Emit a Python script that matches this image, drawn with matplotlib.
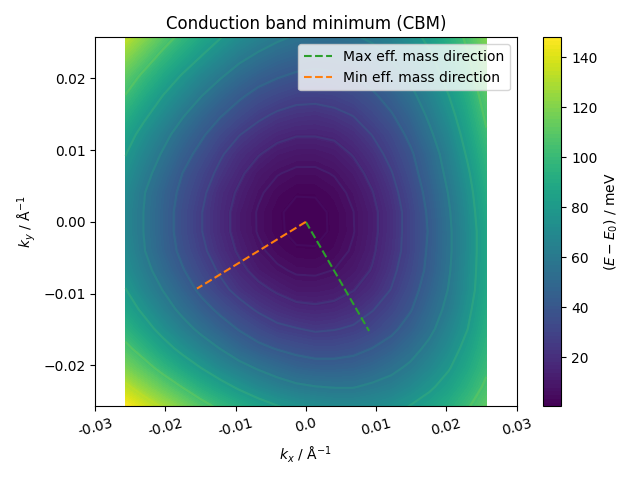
import numpy as np
import matplotlib
matplotlib.use('Agg')
import matplotlib.pyplot as plt
from matplotlib.colors import PowerNorm

# k-grid (Å^-1), 20 x 20 points
KX = [-0.0257, -0.02299, -0.02029, -0.01758, -0.01488, -0.01217, -0.00947,
      -0.00676, -0.00406, -0.00135, 0.00135, 0.00406, 0.00676, 0.00947,
      0.01217, 0.01488, 0.01758, 0.02029, 0.02299, 0.0257]
KY = list(KX)

# E - E0 in meV, rows follow KY (bottom -> top), columns follow KX
E_MEV = [
    [148, 138, 128, 118, 108, 99, 92, 85, 79, 75, 72, 70, 70, 71, 74, 79, 85, 92, 101, 111],
    [133, 122, 112, 102, 92, 84, 76, 69, 64, 60, 58, 57, 57, 60, 63, 69, 76, 84, 94, 105],
    [118, 108, 97, 87, 78, 69, 62, 56, 51, 47, 45, 45, 46, 49, 54, 60, 68, 77, 88, 100],
    [106, 95, 84, 74, 65, 57, 49, 43, 39, 36, 34, 34, 36, 40, 45, 52, 61, 71, 83, 96],
    [95, 84, 73, 63, 54, 46, 39, 33, 28, 26, 24, 25, 27, 31, 37, 45, 54, 66, 78, 93],
    [86, 75, 64, 54, 45, 37, 30, 24, 20, 17, 16, 17, 20, 25, 31, 39, 50, 61, 75, 90],
    [79, 67, 57, 47, 37, 29, 22, 17, 13, 10, 9.9, 11, 14, 19, 26, 35, 46, 58, 72, 88],
    [73, 62, 51, 41, 32, 24, 17, 11, 7.6, 5.4, 5.1, 6.6, 10, 15, 23, 32, 43, 56, 71, 87],
    [70, 58, 47, 37, 28, 20, 13, 7.8, 4.1, 2.1, 2.0, 3.7, 7.3, 13, 21, 30, 42, 55, 70, 87],
    [68, 57, 46, 35, 26, 18, 11, 5.9, 2.3, 0.5, 0.4, 2.3, 6.1, 12, 20, 30, 41, 55, 70, 87],
    [68, 57, 46, 35, 26, 18, 11, 5.8, 2.2, 0.4, 0.4, 2.4, 6.3, 12, 20, 30, 42, 56, 71, 89],
    [70, 58, 47, 37, 28, 19, 13, 7.4, 3.8, 1.9, 2.0, 4.0, 7.9, 14, 22, 32, 44, 58, 73, 91],
    [74, 62, 51, 40, 31, 23, 16, 10, 6.8, 5.0, 5.0, 6.9, 11, 17, 25, 35, 47, 61, 76, 94],
    [79, 67, 56, 45, 36, 27, 20, 15, 11, 9.4, 9.3, 11, 15, 21, 29, 38, 50, 64, 80, 97],
    [85, 73, 62, 51, 42, 33, 26, 21, 17, 15, 15, 16, 20, 26, 33, 43, 55, 68, 84, 101],
    [93, 81, 70, 59, 49, 41, 34, 28, 24, 22, 21, 23, 26, 32, 39, 48, 60, 73, 88, 105],
    [102, 90, 78, 68, 58, 49, 42, 36, 32, 29, 29, 30, 33, 38, 45, 54, 65, 78, 92, 109],
    [111, 99, 88, 77, 67, 59, 51, 45, 41, 38, 37, 38, 40, 45, 52, 60, 71, 83, 97, 113],
    [122, 110, 98, 88, 78, 69, 61, 55, 50, 47, 45, 46, 48, 52, 59, 67, 76, 88, 101, 116],
    [133, 121, 109, 98, 88, 79, 71, 65, 60, 56, 54, 54, 56, 60, 65, 73, 82, 93, 105, 119],
]

CONTOUR_LEVELS = [1.6, 6.4, 14.4, 25.6, 40.0, 57.6, 78.4, 102.4, 129.6]

# effective-mass directions, start at the CBM (0, 0)
MAX_DIR_X = [0.0, 0.0090]
MAX_DIR_Y = [0.0, -0.0152]
MIN_DIR_X = [0.0, -0.0155]
MIN_DIR_Y = [0.0, -0.0093]

XTICKS = [-0.03, -0.02, -0.01, 0.0, 0.01, 0.02, 0.03]
CBAR_TICKS = [20, 40, 60, 80, 100, 120, 140]

E = np.array(E_MEV, dtype=float)

fig, ax = plt.subplots(figsize=(6.4, 4.8))
cf = ax.contourf(KX, KY, E, levels=np.linspace(E.min(), E.max(), 100), cmap='viridis')
ax.contour(KX, KY, E, levels=CONTOUR_LEVELS, cmap='viridis',
           norm=PowerNorm(0.5, vmin=0, vmax=E.max()), linewidths=1.5, alpha=0.25)

ax.plot(MAX_DIR_X, MAX_DIR_Y, '--', color='C2', label='Max eff. mass direction')
ax.plot(MIN_DIR_X, MIN_DIR_Y, '--', color='C1', label='Min eff. mass direction')

ax.set_xlim(-0.03, 0.03)
ax.set_xticks(XTICKS)
ax.set_xticklabels([str(t) for t in XTICKS], rotation=15)
ax.set_xlabel(r'$k_x$ / Å$^{-1}$')
ax.set_ylabel(r'$k_y$ / Å$^{-1}$')
ax.set_title('Conduction band minimum (CBM)')
ax.legend(loc='upper right')

cbar = fig.colorbar(cf, ax=ax)
cbar.set_ticks(CBAR_TICKS)
cbar.set_label(r'$(E - E_0)$ / meV')

fig.tight_layout()
fig.savefig('out.png', dpi=100)
